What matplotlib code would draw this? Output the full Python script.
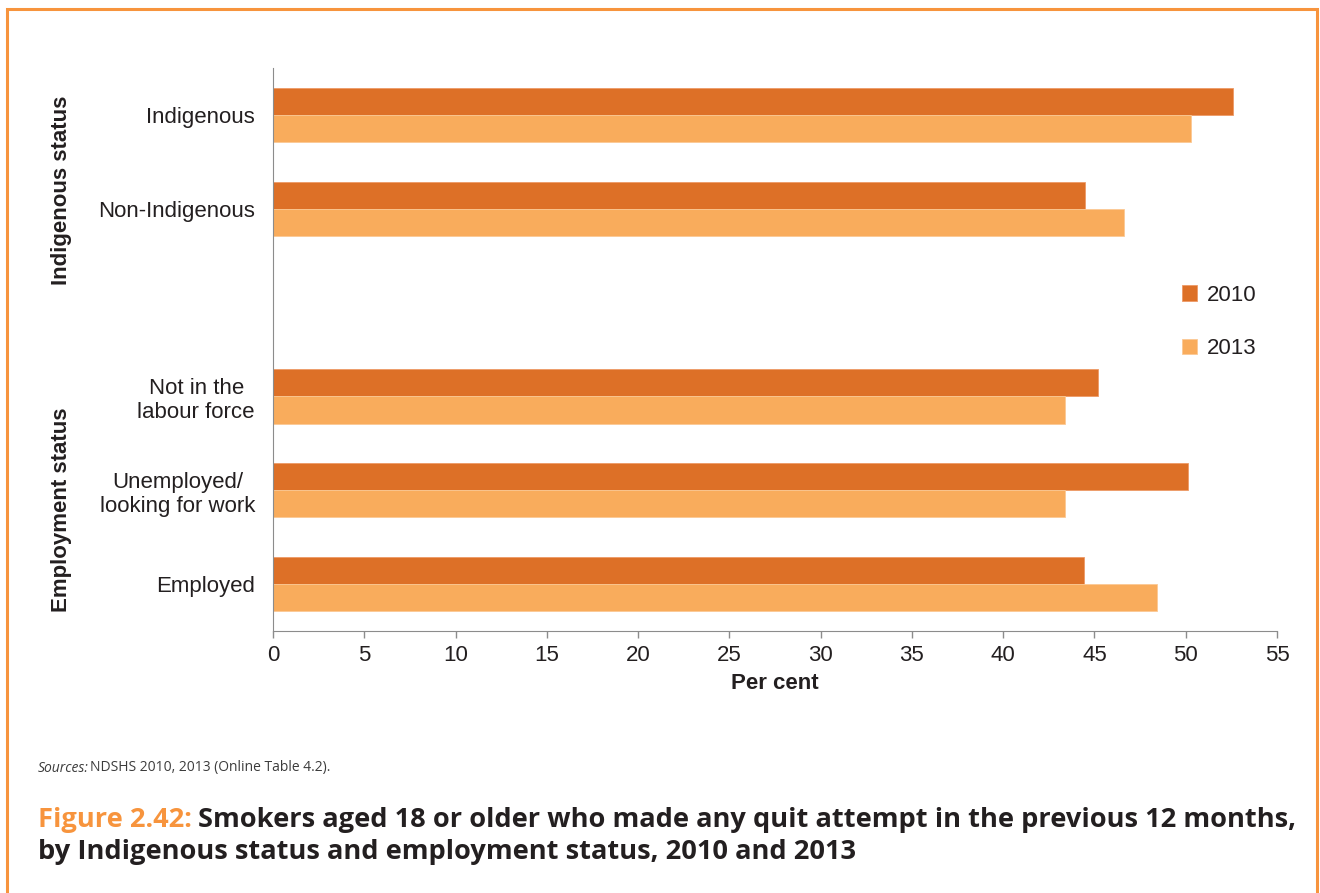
import matplotlib
matplotlib.use("Agg")
import matplotlib.pyplot as plt
from matplotlib.patches import Rectangle
import numpy as np

categories = ["Indigenous", "Non-Indigenous", "", "Not in the\nlabour force",
              "Unemployed/\nlooking for work", "Employed"]
values_2010 = [52.6, 44.5, None, 45.2, 50.1, 44.4]
values_2013 = [50.3, 46.6, None, 43.4, 43.4, 48.4]
series_labels = ["2010", "2013"]
xticks = list(range(0, 60, 5))

c2010 = "#DD7027"
c2013 = "#F9AC5C"
orange = "#F7943D"
txt = "#231F20"
FS = 16

plt.rcParams['font.family'] = ['Liberation Sans', 'DejaVu Sans']

fig = plt.figure(figsize=(13.2, 8.93), dpi=100)
W, H = 1320, 893

def fx(px): return px / W
def fy(py): return 1 - py / H

ax = fig.add_axes([fx(273), fy(631), fx(1277) - fx(273), fy(68) - fy(631)])

pos = np.arange(len(categories))
bh = 0.29
for i, (a, b) in enumerate(zip(values_2010, values_2013)):
    if a is not None:
        ax.barh(pos[i] - bh / 2, a, height=bh, color=c2010, edgecolor="#EE9A66", linewidth=0.6,
                label=series_labels[0] if i == 0 else None)
    if b is not None:
        ax.barh(pos[i] + bh / 2, b, height=bh, color=c2013, edgecolor="#FBC994", linewidth=0.6,
                label=series_labels[1] if i == 0 else None)

ax.set_ylim(len(categories) - 0.5, -0.5)
ax.set_xlim(0, 55)
ax.set_xticks(xticks)
ax.set_xticklabels([str(t) for t in xticks], fontsize=FS, color=txt)
ax.set_yticks(pos)
ax.set_yticklabels(categories, fontsize=FS, color=txt)
for lbl in ax.get_yticklabels():
    lbl.set_multialignment("center")
ax.tick_params(axis="y", length=0, pad=13)
ax.tick_params(axis="x", length=5, color="#8C8C8C", width=1, pad=5)
for s in ["top", "right"]:
    ax.spines[s].set_visible(False)
ax.spines["left"].set_color("#8C8C8C")
ax.spines["bottom"].set_color("#8C8C8C")
ax.set_xlabel("Per cent", fontsize=FS, fontweight="bold", color=txt, labelpad=5)

leg = ax.legend(loc="upper left", bbox_to_anchor=((1164 - 273) / 1004, 1 - (267 - 68) / 563),
                frameon=False, fontsize=FS, handlelength=0.68, handleheight=0.68,
                labelspacing=1.45, handletextpad=0.45, borderpad=0.3)
for t in leg.get_texts():
    t.set_color(txt)

# group labels
fig.text(fx(62), fy(190), "Indigenous status", rotation=90, ha="center", va="center",
         fontsize=FS, fontweight="bold", color=txt)
fig.text(fx(62), fy(510), "Employment status", rotation=90, ha="center", va="center",
         fontsize=FS, fontweight="bold", color=txt)

# frame
fig.add_artist(Rectangle((fx(7), fy(893 + 10)), fx(1317) - fx(7), fy(9) - fy(903),
                         transform=fig.transFigure, fill=False, edgecolor=orange,
                         linewidth=2.2, clip_on=False))

# sources
sfam = ["Open Sans", "DejaVu Sans"]
s0 = fig.text(fx(38), fy(768), "Sources:", fontstyle="italic", fontsize=10, color="#3C3C3C",
              family=sfam, va="center")
fig.canvas.draw()
bb = s0.get_window_extent(fig.canvas.get_renderer())
fig.text(bb.x1 / W + 0.001, fy(768), "NDSHS 2010, 2013 (Online Table 4.2).", fontsize=10,
         color="#3C3C3C", family=sfam, va="center")

tfam = ["Open Sans", "DejaVu Sans"]
TS = 19.6
t1 = fig.text(fx(38), fy(820), "Figure 2.42:", fontsize=TS, fontweight="bold", color=orange,
              family=tfam, va="center")
fig.canvas.draw()
bb = t1.get_window_extent(fig.canvas.get_renderer())
fig.text(bb.x1 / W + 0.005, fy(820),
         "Smokers aged 18 or older who made any quit attempt in the previous 12 months,",
         fontsize=TS, fontweight="bold", color=txt, family=tfam, va="center")
fig.text(fx(38), fy(852), "by Indigenous status and employment status, 2010 and 2013",
         fontsize=TS, fontweight="bold", color=txt, family=tfam, va="center")

fig.savefig("out.png", dpi=100)
